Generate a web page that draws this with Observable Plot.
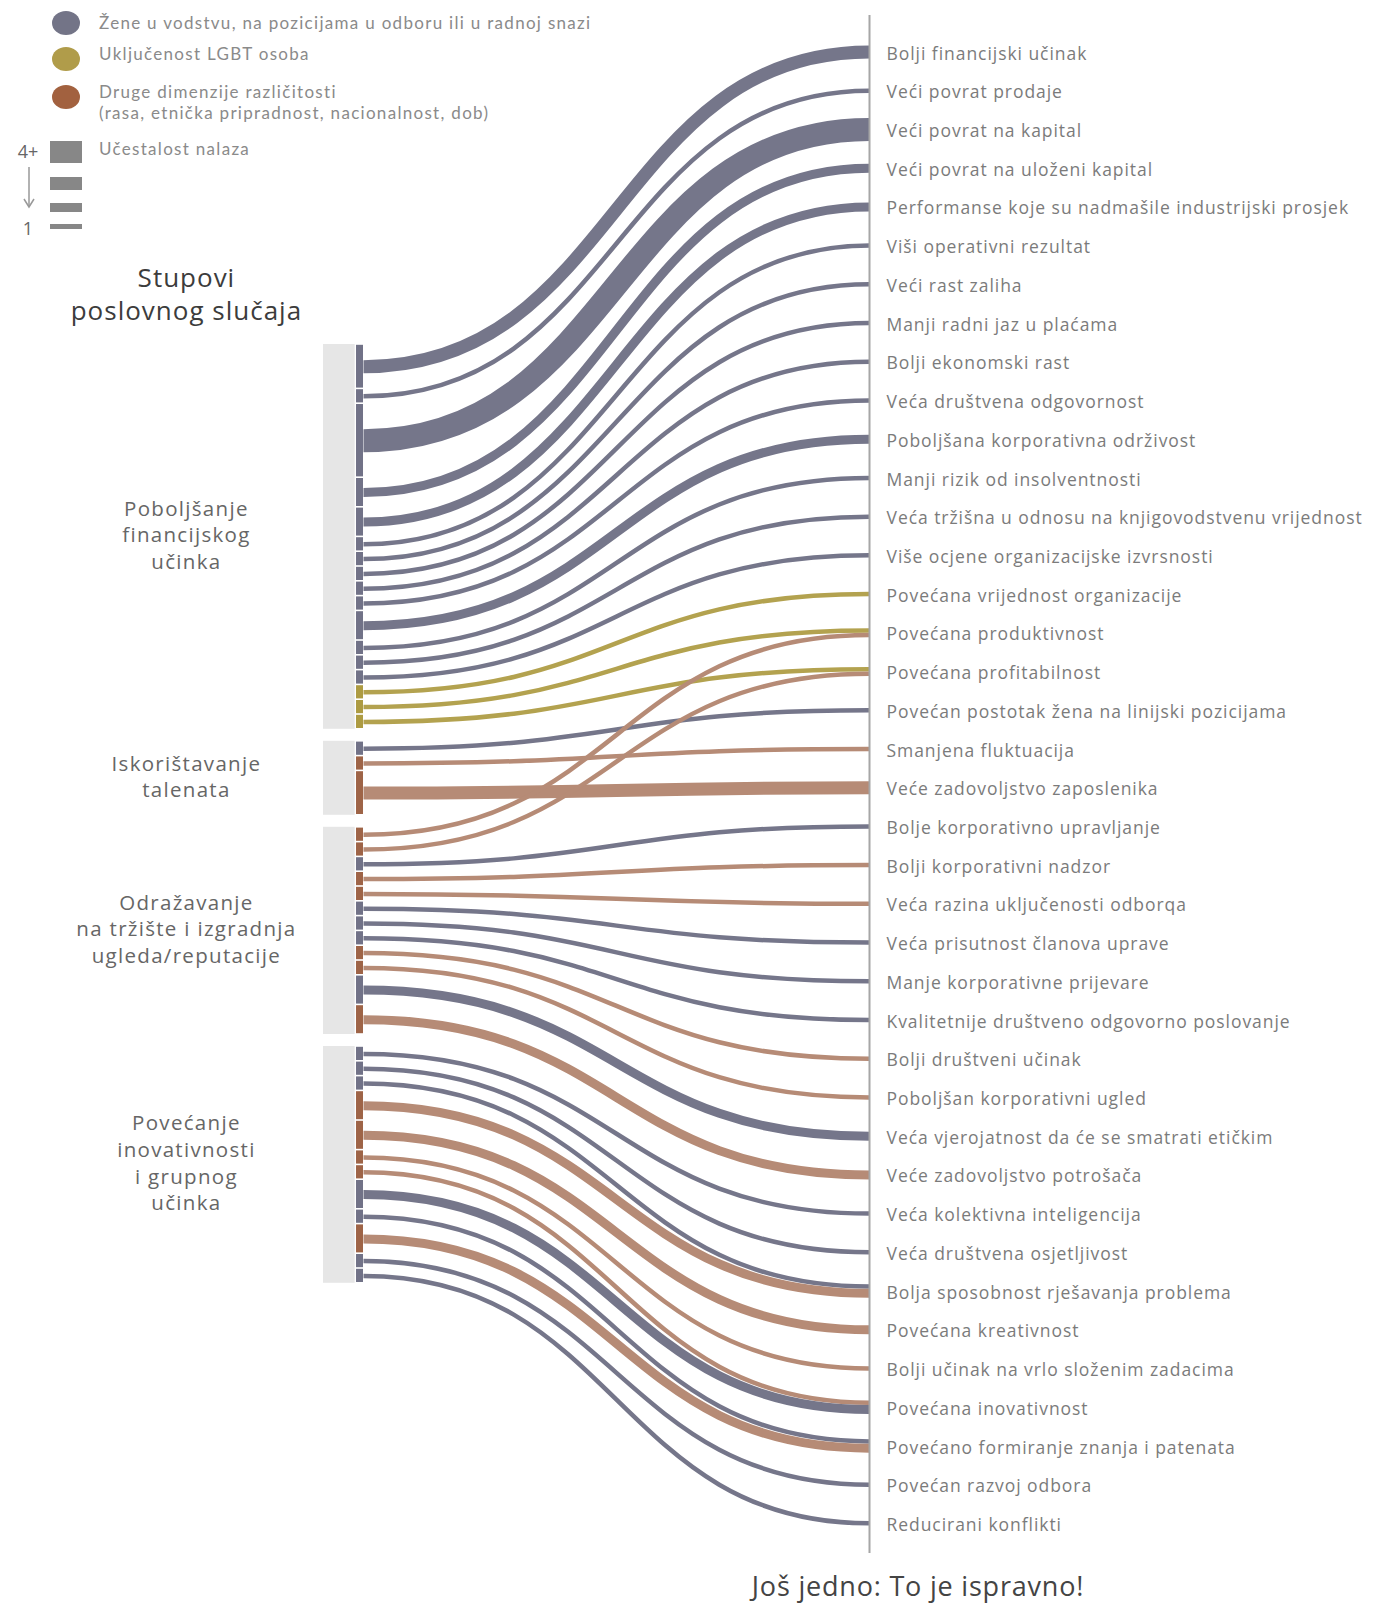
<!DOCTYPE html>
<html><head><meta charset="utf-8">
<script src="https://cdn.jsdelivr.net/npm/d3@7"></script>
<script src="https://cdn.jsdelivr.net/npm/@observablehq/plot@0.6"></script>
<style>
body{margin:0;background:#fff;font-family:"Open Sans",sans-serif;}
#wrap{position:relative;width:1396px;height:1603px;overflow:hidden;}
#chart{position:absolute;left:0;top:0;}
.abs{position:absolute;white-space:nowrap;}
.legtxt{font-family:Lato,sans-serif;color:#8a8a8a;font-size:17px;line-height:18px;height:18px;letter-spacing:1.3px;}
.dot{position:absolute;border-radius:50%;}
.fbar{position:absolute;background:#878787;left:50px;width:32px;}
.num{position:absolute;color:#666;font-size:18px;transform:translate(-50%,-50%);}
#caption{position:absolute;top:1567px;left:700px;width:436px;text-align:center;font-size:27px;letter-spacing:0.8px;color:#444;}
</style></head><body>
<div id="wrap"><div id="chart"></div><div id="legend"></div><div id="caption"></div></div>
<script>
// ---- data ----
const outcomes = [
"Bolji financijski učinak","Veći povrat prodaje","Veći povrat na kapital","Veći povrat na uloženi kapital",
"Performanse koje su nadmašile industrijski prosjek","Viši operativni rezultat","Veći rast zaliha",
"Manji radni jaz u plaćama","Bolji ekonomski rast","Veća društvena odgovornost","Poboljšana korporativna održivost",
"Manji rizik od insolventnosti","Veća tržišna u odnosu na knjigovodstvenu vrijednost","Više ocjene organizacijske izvrsnosti",
"Povećana vrijednost organizacije","Povećana produktivnost","Povećana profitabilnost",
"Povećan postotak žena na linijski pozicijama","Smanjena fluktuacija","Veće zadovoljstvo zaposlenika",
"Bolje korporativno upravljanje","Bolji korporativni nadzor","Veća razina uključenosti odborqa",
"Veća prisutnost članova uprave","Manje korporativne prijevare","Kvalitetnije društveno odgovorno poslovanje",
"Bolji društveni učinak","Poboljšan korporativni ugled","Veća vjerojatnost da će se smatrati etičkim",
"Veće zadovoljstvo potrošača","Veća kolektivna inteligencija","Veća društvena osjetljivost",
"Bolja sposobnost rješavanja problema","Povećana kreativnost","Bolji učinak na vrlo složenim zadacima",
"Povećana inovativnost","Povećano formiranje znanja i patenata","Povećan razvoj odbora","Reducirani konflikti"];

const pillars = ["Poboljšanje\nfinancijskog\nučinka","Iskorištavanje\ntalenata",
"Odražavanje\nna tržište i izgradnja\nugleda/reputacije","Povećanje\ninovativnosti\ni grupnog\nučinka"];
const pillarsTitle = "Stupovi\nposlovnog slučaja";

const dimensions = ["Žene u vodstvu, na pozicijama u odboru ili u radnoj snazi","Uključenost LGBT osoba",
"Druge dimenzije različitosti\n(rasa, etnička pripradnost, nacionalnost, dob)"];
const frequencyTitle = "Učestalost nalaza";
const frequencyLevels = [4,3,2,1];   // 4 = "4+"
const caption = "Još jedno: To je ispravno!";

// links, top to bottom on the left
const linkPillar = [0,0,0,0,0,0,0,0,0,0,0,0,0,0,0,0,0, 1,1,1, 2,2,2,2,2,2,2,2,2,2,2,2, 3,3,3,3,3,3,3,3,3,3,3,3];
const linkOutcome = [0,1,2,3,4,5,6,7,8,9,10,11,12,13,14,15,16, 17,18,19, 15,16,20,21,22,23,24,25,26,27,28,29,
  30,31,32,32,33,34,35,35,36,36,37,38];
const linkDimension = [0,0,0,0,0,0,0,0,0,0,0,0,0,0,1,1,1, 0,2,2, 2,2,0,2,2,0,0,0,2,2,0,2,
  0,0,0,2,2,2,2,0,0,2,0,0];
const linkFrequency = [3,1,4,2,2,1,1,1,1,1,2,1,1,1,1,1,1, 1,1,3, 1,1,1,1,1,1,1,1,1,1,2,2,
  1,1,1,2,2,1,1,2,1,2,1,1];

// ---- styling / layout ----
const linkColors = ["#75768a","#b3a24f","#b68b76"];
const barColors  = ["#717287","#ad9b42","#9e6447"];
const dotColors  = ["#737487","#b09c4a","#a2613f"];
const widthOf = f => [0,4.5,9,13,23][f];
const slotOf = f => f >= 4 ? 5 : f;
const unitPx = 14.8, gapPx = 12, leftTopPx = 344;
const row0Px = 51.5, rowPx = 38.72;
const toRow = px => (px - row0Px) / rowPx;

// left slots
let cursor = leftTopPx, prev = -1;
const groupSpans = [];
const links = linkOutcome.map((t, i) => {
  const p = linkPillar[i];
  if (p !== prev) { if (prev >= 0) cursor += gapPx; groupSpans[p] = {p, top: cursor}; prev = p; }
  const top = cursor, h = slotOf(linkFrequency[i]) * unitPx;
  cursor += h; groupSpans[p].bottom = cursor;
  return {i, t, p, dim: linkDimension[i], f: linkFrequency[i], top, bottom: top + h, yL: top + h / 2};
});
// right stacking per outcome
d3.group(links, d => d.t).forEach((arr, t) => {
  const total = d3.sum(arr, d => widthOf(d.f));
  let y = row0Px + t * rowPx - total / 2;
  for (const d of arr) { d.yR = y + widthOf(d.f) / 2; y += widthOf(d.f); }
});
const groups = groupSpans.map(g => ({...g, name: pillars[g.p], mid: (g.top + g.bottom) / 2}));

const chart = Plot.plot({
  width: 1396, height: 1570, margin: 0,
  style: {fontFamily: "'Open Sans', sans-serif"},
  x: {domain: [0, 1], range: [363, 869], axis: null},
  y: {domain: [0, 38], range: [row0Px, row0Px + 38 * rowPx], axis: null},
  marks: [
    Plot.rect(groups, {x1: -0.079, x2: -0.0165, y1: d => toRow(d.top), y2: d => toRow(d.bottom), fill: "#e6e6e6"}),
    Plot.rect(links, {x1: -0.0138, x2: 0, y1: d => toRow(d.top), y2: d => toRow(d.bottom),
      fill: d => barColors[d.dim], insetTop: 0.8, insetBottom: 0.8}),
    Plot.link(links, {x1: 0, x2: 1, y1: d => toRow(d.yL), y2: d => toRow(d.yR), curve: "bump-x",
      stroke: d => linkColors[d.dim], strokeWidth: d => widthOf(d.f)}),
    Plot.ruleX([1], {y1: toRow(15), y2: toRow(1553), stroke: "#a6a6a6", strokeWidth: 2}),
    Plot.text(outcomes, {x: 1, y: (d, i) => i, text: d => d, textAnchor: "start", dx: 17, dy: 2,
      fontSize: 17.5, fill: "#7b7b7b"}),
    Plot.text(groups, {x: -0.35, y: d => toRow(d.mid), text: "name", dy: -3, fontSize: 20.5, lineHeight: 1.3, fill: "#666"}),
    Plot.text([pillarsTitle], {x: -0.35, y: toRow(292), text: d => d, fontSize: 26, lineHeight: 1.27, fill: "#3c3c3c"})
  ]
});
const textGroups = chart.querySelectorAll('g[aria-label="text"]');
textGroups[0].setAttribute("letter-spacing", "0.95");
textGroups[1].setAttribute("letter-spacing", "1.3");
textGroups[2].setAttribute("letter-spacing", "1.0");
document.getElementById("chart").appendChild(chart);

// ---- legend (HTML overlay) ----
const leg = document.getElementById("legend");
const dotY = [23, 59, 97], txtY = [23, 54, 92];
dimensions.forEach((name, i) => {
  const dot = document.createElement("div");
  dot.className = "dot";
  Object.assign(dot.style, {left: "52px", top: (dotY[i] - 12) + "px", width: "28px", height: "24px", background: dotColors[i]});
  leg.appendChild(dot);
  name.split("\n").forEach((line, j) => {
    const t = document.createElement("div");
    t.className = "abs legtxt";
    t.textContent = line;
    t.style.left = "99px";
    t.style.top = (txtY[i] - 9 + j * 20.6) + "px";
    leg.appendChild(t);
  });
});
const ft = document.createElement("div");
ft.className = "abs legtxt"; ft.textContent = frequencyTitle;
ft.style.left = "99px"; ft.style.top = "140px"; leg.appendChild(ft);
const barTop = {4: 141, 3: 177, 2: 203, 1: 224};
frequencyLevels.forEach(f => {
  const b = document.createElement("div");
  b.className = "fbar";
  b.style.top = barTop[f] + "px"; b.style.height = (f === 4 ? 22 : widthOf(f)) + "px";
  leg.appendChild(b);
});
[["4+", 28, 151], ["1", 28, 228]].forEach(([s, x, y]) => {
  const n = document.createElement("div"); n.className = "num"; n.textContent = s;
  n.style.left = x + "px"; n.style.top = y + "px"; leg.appendChild(n);
});
leg.insertAdjacentHTML("beforeend",
  '<svg class="abs" style="left:20px;top:166px" width="20" height="45"><line x1="9" y1="1" x2="9" y2="40" stroke="#999" stroke-width="1.5"/><path d="M4,33 L9,41 L14,33" fill="none" stroke="#999" stroke-width="1.5"/></svg>');
document.getElementById("caption").textContent = caption;
</script>
</body></html>
